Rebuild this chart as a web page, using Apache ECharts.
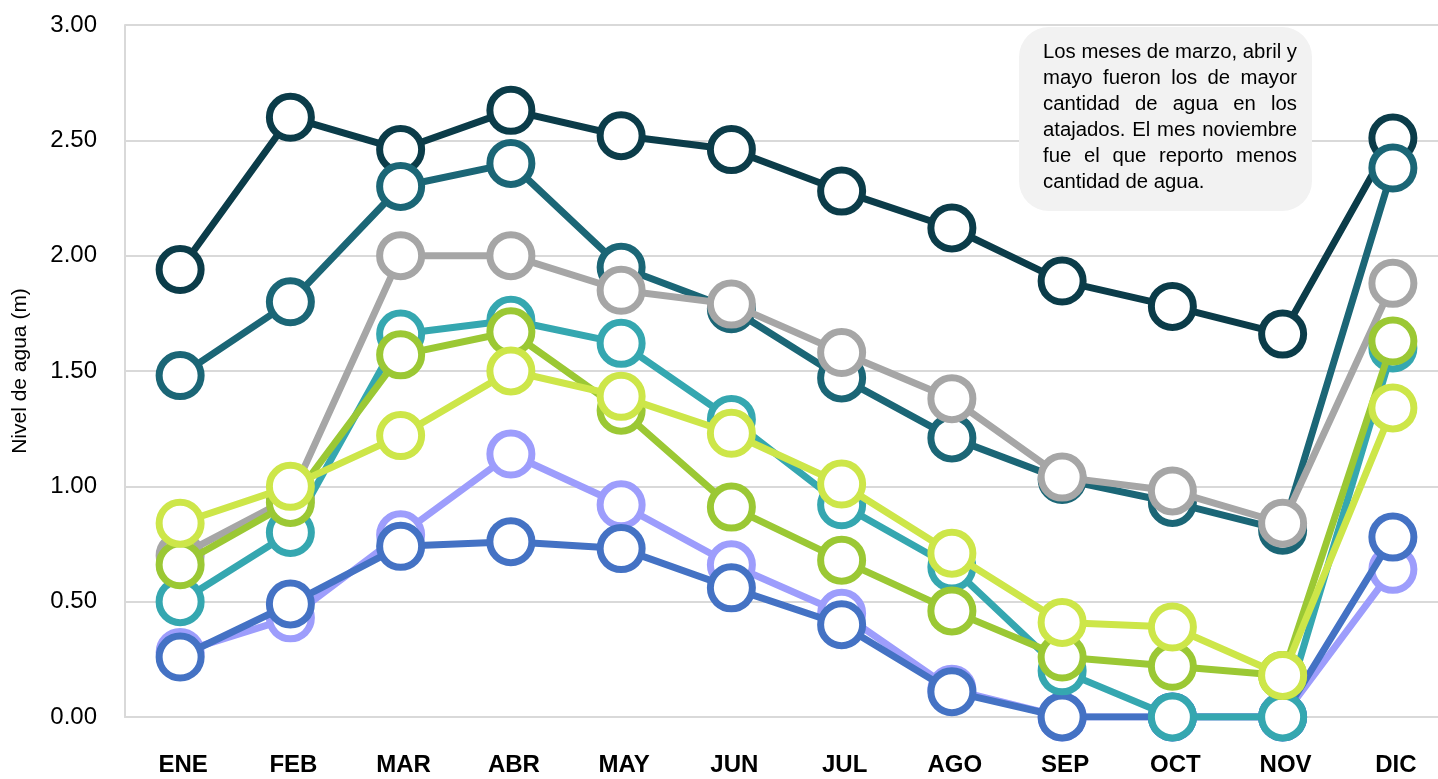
<!DOCTYPE html>
<html>
<head>
<meta charset="utf-8">
<script src="https://cdn.jsdelivr.net/npm/echarts@6/dist/echarts.min.js"></script>
<style>
  html, body { margin: 0; padding: 0; background: #fff; }
  #chart { width: 1438px; height: 779px; }
</style>
</head>
<body>
<div id="chart"></div>
<script>
// meses
const months = ["ENE", "FEB", "MAR", "ABR", "MAY", "JUN", "JUL", "AGO", "SEP", "OCT", "NOV", "DIC"];

// nivel de agua por atajado (m)
const s1 = [1.94, 2.60, 2.46, 2.63, 2.52, 2.46, 2.28, 2.12, 1.89, 1.78, 1.66, 2.51];
const s2 = [1.48, 1.80, 2.30, 2.40, 1.95, 1.77, 1.47, 1.21, 1.03, 0.93, 0.81, 2.38];
const s3 = [0.70, 0.95, 2.00, 2.00, 1.85, 1.79, 1.58, 1.38, 1.04, 0.98, 0.84, 1.88];
const s4 = [0.28, 0.43, 0.79, 1.14, 0.92, 0.66, 0.45, 0.12, 0.00, 0.00, 0.00, 0.64];
const s5 = [0.26, 0.49, 0.74, 0.76, 0.73, 0.56, 0.40, 0.11, 0.00, 0.00, 0.00, 0.78];
const s6 = [0.50, 0.80, 1.66, 1.72, 1.62, 1.29, 0.92, 0.65, 0.20, 0.00, 0.00, 1.60];
const s7 = [0.66, 0.93, 1.57, 1.67, 1.33, 0.91, 0.68, 0.46, 0.26, 0.22, 0.18, 1.63];
const s8 = [0.84, 1.00, 1.22, 1.50, 1.39, 1.23, 1.01, 0.71, 0.41, 0.39, 0.18, 1.34];

const seriesData = [s1, s2, s3, s4, s5, s6, s7, s8];
const colors = ["#0B3C49", "#1B6676", "#A6A6A6", "#9D9DFC", "#4472C4", "#35A7B0", "#9BC834", "#CDE649"];

const noteLines = [
	"Los meses de marzo, abril y",
	"mayo fueron los de mayor",
	"cantidad de agua en los",
	"atajados. El mes noviembre",
	"fue el que reporto menos",
	"cantidad de agua."
];

const fontFam = "'Liberation Sans', Arial, sans-serif";

// texto justificado como en el cuadro original (condensado con scaleX)
function noteGraphics() {
	const font = "20px " + fontFam;
	const ctx = document.createElement("canvas").getContext("2d");
	ctx.font = font;
	const x0 = 1043, x1 = 1297, y0 = 52, lh = 26;
	// la primera linea llena el ancho sin espacio extra
	const sx = (x1 - x0) / ctx.measureText(noteLines[0]).width;
	const space = ctx.measureText(" ").width * sx;
	const els = [{
		type: "rect",
		shape: { x: 1019, y: 27, width: 293, height: 184, r: 30 },
		style: { fill: "#F2F2F2" },
		z: 100
	}];
	noteLines.forEach((line, i) => {
		const y = y0 + i * lh;
		const words = line.split(" ");
		const widths = words.map(w => ctx.measureText(w).width * sx);
		const total = widths.reduce((a, b) => a + b, 0);
		let gap = (x1 - x0 - total) / (words.length - 1);
		if (i === noteLines.length - 1) gap = space;
		let x = x0;
		words.forEach((w, j) => {
			els.push({ type: "text", x: x, y: y, scaleX: sx, z: 101,
				style: { text: w, font: font, fill: "#000", verticalAlign: "middle" } });
			x += widths[j] + gap;
		});
	});
	return els;
}

const chart = echarts.init(document.getElementById("chart"));
chart.setOption({
	animation: false,
	grid: {
		left: 125,
		right: -10,
		top: 25,
		bottom: 62,
		containLabel: false,
		outerBoundsMode: "none"
	},
	xAxis: {
		type: "category",
		data: months,
		boundaryGap: true,
		axisLine: { show: true, lineStyle: { color: "#D9D9D9", width: 2 } },
		axisTick: { show: false },
		axisLabel: {
			color: "#000",
			fontFamily: fontFam,
			fontWeight: "bold",
			fontSize: 24,
			margin: 36,
			padding: [0, 0, 0, 6]
		}
	},
	yAxis: {
		type: "value",
		min: 0,
		max: 3,
		interval: 0.5,
		name: "Nivel de agua (m)",
		nameLocation: "middle",
		nameGap: 94,
		nameTextStyle: { color: "#000", fontFamily: fontFam, fontSize: 21 },
		axisLine: { show: true, lineStyle: { color: "#D9D9D9", width: 2 } },
		axisTick: { show: false },
		splitLine: { lineStyle: { color: "#D9D9D9", width: 2 } },
		axisLabel: {
			color: "#000",
			fontFamily: fontFam,
			fontSize: 24,
			margin: 28,
			formatter: v => v.toFixed(2)
		}
	},
	series: seriesData.map((d, i) => ({
		type: "line",
		data: d,
		symbol: "circle",
		symbolSize: 42,
		z: 2 + i,
		lineStyle: { color: colors[i], width: 7 },
		itemStyle: { color: "#fff", borderColor: colors[i], borderWidth: 7 },
		emphasis: { disabled: true }
	})),
	graphic: noteGraphics()
});
</script>
</body>
</html>
